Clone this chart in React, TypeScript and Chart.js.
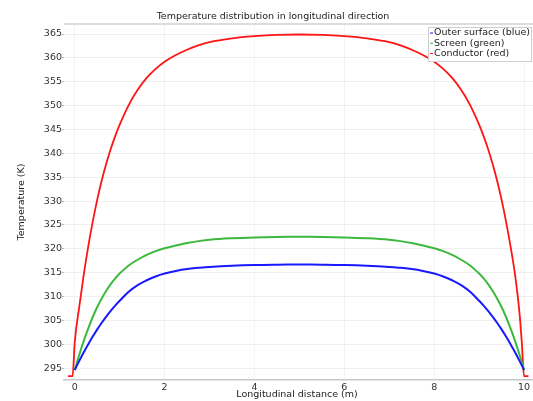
import React, { useEffect, useRef } from 'react';
import { Chart, registerables } from 'chart.js';

Chart.register(...registerables);

const CHART_TITLE = 'Temperature distribution in longitudinal direction';
const X_TITLE = 'Longitudinal distance (m)';
const Y_TITLE = 'Temperature (K)';
const X_TICKS = [0, 2, 4, 6, 8, 10];
const Y_TICKS = [295, 300, 305, 310, 315, 320, 325, 330, 335, 340, 345, 350, 355, 360, 365];
const SERIES_LABELS = ['Outer surface (blue)', 'Screen (green)', 'Conductor (red)'];
const SERIES_COLORS = ['rgb(25,25,255)', 'rgb(60,185,60)', 'rgb(255,20,20)'];

// longitudinal positions (m) for outer surface and screen
const XS = [0, 0.1, 0.2, 0.3, 0.4, 0.5, 0.6, 0.7, 0.8, 0.9, 1.0, 1.2, 1.4, 1.6, 1.8, 2.0, 2.25, 2.5, 2.75, 3.0, 3.5, 4.0, 4.5, 5.0,
  5.5, 6.0, 6.5, 7.0, 7.25, 7.5, 7.75, 8.0, 8.2, 8.4, 8.6, 8.8, 9.0, 9.1, 9.2, 9.3, 9.4, 9.5, 9.6, 9.7, 9.8, 9.9, 10.0];
const BLUE = [294.6, 296.5, 298.3, 300.0, 301.6, 303.1, 304.5, 305.8, 307.0, 308.1, 309.1, 311.0, 312.4, 313.4, 314.2, 314.8, 315.35, 315.75, 316.0, 316.2, 316.45, 316.6, 316.67, 316.7,
  316.67, 316.6, 316.45, 316.2, 316.0, 315.75, 315.35, 314.8, 314.2, 313.4, 312.4, 311.0, 309.1, 308.1, 307.0, 305.8, 304.5, 303.1, 301.6, 300.0, 298.3, 296.5, 294.6];
const GREEN = [294.6, 297.8, 300.7, 303.3, 305.7, 307.8, 309.6, 311.2, 312.6, 313.8, 314.8, 316.5, 317.7, 318.7, 319.5, 320.1, 320.7, 321.2, 321.6, 321.9, 322.2, 322.38, 322.47, 322.5,
  322.47, 322.38, 322.2, 321.9, 321.6, 321.2, 320.7, 320.1, 319.5, 318.7, 317.7, 316.5, 314.8, 313.8, 312.6, 311.2, 309.6, 307.8, 305.7, 303.3, 300.7, 297.8, 294.6];
// conductor
const RED_XS = [-0.15, -0.05, 0, 0.1, 0.2, 0.3, 0.4, 0.5, 0.6, 0.7, 0.8, 0.9, 1.0, 1.2, 1.4, 1.6, 1.8, 2.0, 2.25, 2.5, 2.75, 3.0, 3.5, 4.0, 4.5, 5.0,
  5.5, 6.0, 6.5, 7.0, 7.25, 7.5, 7.75, 8.0, 8.2, 8.4, 8.6, 8.8, 9.0, 9.1, 9.2, 9.3, 9.4, 9.5, 9.6, 9.7, 9.8, 9.9, 9.95, 10.0, 10.1];
const RED = [293.3, 293.3, 300.5, 307.9, 314.6, 320.5, 325.7, 330.3, 334.3, 337.8, 340.9, 343.6, 346.0, 350.1, 353.3, 355.8, 357.7, 359.2, 360.6, 361.7, 362.6, 363.3, 364.1, 364.55, 364.82, 364.9,
  364.82, 364.55, 364.1, 363.3, 362.6, 361.7, 360.6, 359.2, 357.7, 355.8, 353.3, 350.1, 346.0, 343.6, 340.9, 337.8, 334.3, 330.3, 325.7, 320.5, 314.6, 306.5, 300.5, 293.3, 293.3];

const FONT = '"DejaVu Sans", Verdana, sans-serif';
const FS = 9.5;

const overlay = {
  id: 'overlay',
  afterDraw(chart: any) {
    const ctx = chart.ctx;
    const ca = chart.chartArea;
    ctx.save();
    ctx.strokeStyle = '#dcdcdc';
    ctx.lineWidth = 2;
    ctx.beginPath();
    ctx.moveTo(ca.left, ca.top);
    ctx.lineTo(ca.right, ca.top);
    ctx.stroke();
    ctx.font = `${FS}px ${FONT}`;
    ctx.fillStyle = '#222';
    ctx.textAlign = 'center';
    ctx.textBaseline = 'middle';
    ctx.fillText(CHART_TITLE, 273, 17);
    ctx.fillText(X_TITLE, 297, 395);
    ctx.save();
    ctx.translate(22, 202);
    ctx.rotate(-Math.PI / 2);
    ctx.fillText(Y_TITLE, 0, 0);
    ctx.restore();
    const lx = 428, ly = 27, lw = 103, lh = 34;
    ctx.fillStyle = '#fff';
    ctx.fillRect(lx, ly, lw, lh);
    ctx.strokeStyle = '#cfcfcf';
    ctx.lineWidth = 1;
    ctx.strokeRect(lx + 0.5, ly + 0.5, lw, lh);
    ctx.textAlign = 'left';
    chart.data.datasets.forEach((ds: any, i: number) => {
      const y = ly + 6 + i * 10.3;
      ctx.strokeStyle = ds.borderColor;
      ctx.lineWidth = 1;
      ctx.beginPath();
      ctx.moveTo(lx + 2, y);
      ctx.lineTo(lx + 5, y);
      ctx.stroke();
      ctx.fillStyle = '#222';
      ctx.fillText(ds.label, lx + 6, y);
    });
    ctx.restore();
  },
};

export default function App() {
  const ref = useRef<HTMLCanvasElement>(null);
  useEffect(() => {
    document.body.style.margin = '0';
    const chart = new Chart(ref.current!, {
      type: 'line',
      data: {
        datasets: [
          { label: SERIES_LABELS[0], data: XS.map((x, i) => ({ x, y: BLUE[i] })), borderColor: SERIES_COLORS[0], borderWidth: 2, tension: 0.4, cubicInterpolationMode: 'default' },
          { label: SERIES_LABELS[1], data: XS.map((x, i) => ({ x, y: GREEN[i] })), borderColor: SERIES_COLORS[1], borderWidth: 2, tension: 0.4, cubicInterpolationMode: 'default' },
          { label: SERIES_LABELS[2], data: RED_XS.map((x, i) => ({ x, y: RED[i] })), borderColor: SERIES_COLORS[2], borderWidth: 1.8, cubicInterpolationMode: 'monotone' },
        ],
      },
      options: {
        responsive: false,
        animation: false,
        layout: { padding: { top: 24, right: 0, left: 0, bottom: 0 } },
        elements: { point: { radius: 0 }, line: { fill: false } },
        plugins: { legend: { display: false }, title: { display: false }, tooltip: { enabled: false } },
        scales: {
          x: {
            type: 'linear',
            min: -0.24,
            max: 10.2,
            afterBuildTicks: (s: any) => { s.ticks = X_TICKS.map((v) => ({ value: v })); },
            afterFit: (s: any) => { s.height = 21; },
            grid: { color: 'rgba(0,0,0,0.045)', drawTicks: false },
            border: { display: true, color: '#c8c8c8', width: 1.5 },
            ticks: { font: { family: FONT, size: FS }, color: '#333', padding: 2, maxRotation: 0 },
          },
          y: {
            type: 'linear',
            min: 292.5,
            max: 367.1,
            afterBuildTicks: (s: any) => { s.ticks = Y_TICKS.map((v) => ({ value: v })); },
            afterFit: (s: any) => { s.width = 64; },
            grid: { color: 'rgba(0,0,0,0.06)', tickLength: 2, tickColor: '#bbb' },
            border: { display: false },
            ticks: { font: { family: FONT, size: FS }, color: '#333', padding: 0 },
          },
        },
      },
      plugins: [overlay],
    } as any);
    return () => chart.destroy();
  }, []);
  return <canvas ref={ref} width={533} height={401} style={{ display: 'block' }} />;
}
